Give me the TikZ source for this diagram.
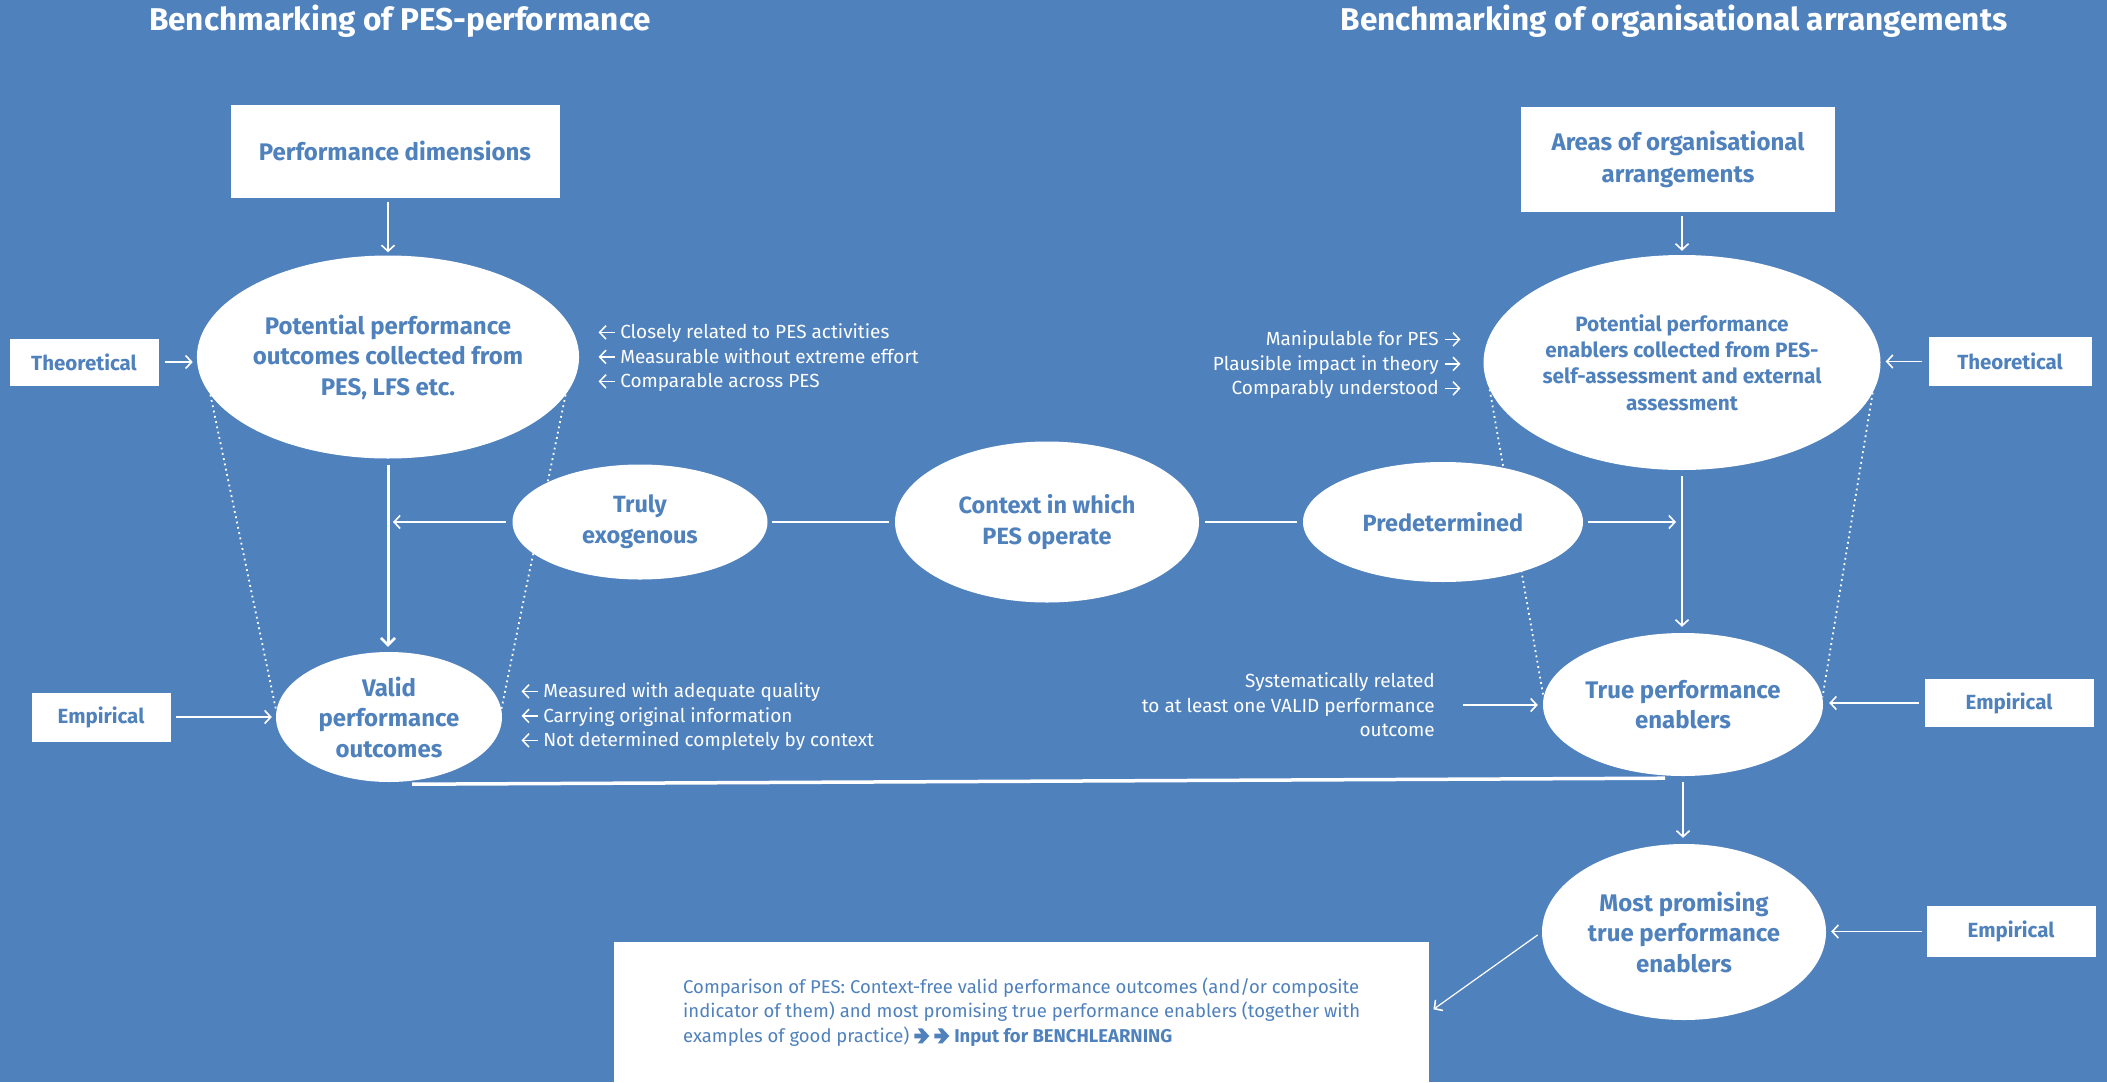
\documentclass[tikz,border=0pt]{standalone}
\usepackage{fontspec}
\setmainfont{Fira Sans}
\usetikzlibrary{shapes.geometric,arrows.meta,calc}
\definecolor{pesblue}{HTML}{4F81BD}
\pgfdeclarelayer{behind}
\pgfsetlayers{behind,main}
% small inline arrow (pointing from #1 to #2) used in the criteria lists
\newcommand\inlinearrow[2]{%
  \begin{pgfpicture}%
    \pgfsetbaseline{-6.5pt}%
    \pgfsetlinewidth{1.5pt}%
    \pgfsetstrokecolor{white}%
    \pgfsetarrowsend{Straight Barb[length=6.5pt,width=13.5pt,line width=1.5pt]}%
    \pgfpathmoveto{\pgfpoint{#1}{0pt}}%
    \pgfpathlineto{\pgfpoint{#2}{0pt}}%
    \pgfusepath{stroke}%
  \end{pgfpicture}}
\newcommand\lpt{\inlinearrow{16pt}{0pt}\hspace{5pt}}
\newcommand\rpt{\hspace{5pt}\inlinearrow{0pt}{16pt}}
% heavy chevron arrow used before the closing statement
\newcommand\heavyarrow{%
  \begin{pgfpicture}%
    \pgfsetbaseline{-6.5pt}%
    \pgfsetfillcolor{pesblue}%
    \pgfpathmoveto{\pgfpoint{0pt}{2.4pt}}%
    \pgfpathlineto{\pgfpoint{7pt}{2.4pt}}%
    \pgfpathlineto{\pgfpoint{3.5pt}{7.5pt}}%
    \pgfpathlineto{\pgfpoint{8pt}{7.5pt}}%
    \pgfpathlineto{\pgfpoint{15pt}{0pt}}%
    \pgfpathlineto{\pgfpoint{8pt}{-7.5pt}}%
    \pgfpathlineto{\pgfpoint{3.5pt}{-7.5pt}}%
    \pgfpathlineto{\pgfpoint{7pt}{-2.4pt}}%
    \pgfpathlineto{\pgfpoint{0pt}{-2.4pt}}%
    \pgfpathclose
    \pgfusepath{fill}%
  \end{pgfpicture}}
\begin{document}
\begin{tikzpicture}[x=1pt,y=-1pt,
  every node/.style={inner sep=0pt},
  heading/.style={text=white, font=\fontsize{31.5}{36}\selectfont\bfseries},
  oval/.style={ellipse, fill=white, text=pesblue, align=center,
    font=\fontsize{24}{30.5}\selectfont\bfseries},
  wbox/.style={rectangle, fill=white, text=pesblue, align=center,
    font=\fontsize{24}{32}\selectfont\bfseries},
  srcbox/.style={rectangle, fill=white, text=pesblue,
    font=\fontsize{20.5}{24}\selectfont\bfseries},
  note/.style={text=white, font=\fontsize{19}{24.5}\selectfont},
  arr/.style={draw=white, line width=1.6pt,
    -{Straight Barb[length=6pt,width=13pt,line width=1.6pt]}},
  thickarr/.style={draw=white, line width=3pt,
    -{Straight Barb[length=7pt,width=14pt,line width=2.6pt]}},
  link/.style={draw=white, line width=2.4pt},
  dots/.style={draw=white, line width=1.8pt, dash pattern=on 1.8pt off 3.6pt}]

\begin{pgfonlayer}{behind}
  \fill[pesblue] (0,0) rectangle (2107,1082);
\end{pgfonlayer}
\useasboundingbox (0,0) rectangle (2107,1082);

% headings
\node[heading, anchor=base] (headL) at (400,30) {Benchmarking of PES-performance};
\node[heading, anchor=base] (headR) at (1674,30) {Benchmarking of organisational arrangements};

% top boxes
\node[wbox, minimum width=329pt, minimum height=93pt] (dims) at (395,151) {Performance dimensions};
\node[wbox, minimum width=314pt, minimum height=105pt] (areas) at (1678,159.5) {Areas of organisational\\arrangements};

% source boxes
\node[srcbox, minimum width=149pt, minimum height=47pt] (theoL) at (84,362) {Theoretical};
\node[srcbox, minimum width=163pt, minimum height=49pt] (theoR) at (2010,361.5) {Theoretical};
\node[srcbox, minimum width=139pt, minimum height=49pt] (empL) at (101,717) {Empirical};
\node[srcbox, minimum width=169pt, minimum height=48pt] (empR) at (2009,703) {Empirical};
\node[srcbox, minimum width=169pt, minimum height=51pt] (empB) at (2011,931.5) {Empirical};

% ellipses
\node[oval, minimum width=382pt, minimum height=203pt] (outc) at (388,357)
  {Potential performance\\outcomes collected from\\PES, LFS etc.};
\node[oval, minimum width=397pt, minimum height=215pt,
      font=\fontsize{20.8}{26.3}\selectfont\bfseries] (enab) at (1682,362.5)
  {Potential performance\\enablers collected from PES-\\self-assessment and external\\assessment};
\node[oval, minimum width=255pt, minimum height=115pt, font=\fontsize{23.5}{31}\selectfont\bfseries] (truly) at (640,522)
  {Truly\\exogenous};
\node[oval, minimum width=304pt, minimum height=161pt, font=\fontsize{23.5}{31}\selectfont\bfseries] (context) at (1047,522)
  {Context in which\\PES operate};
\node[oval, minimum width=280pt, minimum height=120pt, font=\fontsize{23.5}{31}\selectfont\bfseries] (pred) at (1443,522)
  {Predetermined};
\node[oval, minimum width=226pt, minimum height=130pt] (valid) at (389,717)
  {Valid\\performance\\outcomes};
\node[oval, minimum width=280pt, minimum height=143pt] (trueen) at (1683,704.5)
  {True performance\\enablers};
\node[oval, minimum width=284pt, minimum height=176pt] (most) at (1684,932)
  {Most promising\\true performance\\enablers};

% criteria notes
\node[note, anchor=west, align=left] (critA) at (597,358)
  {\lpt Closely related to PES activities\\\lpt Measurable without extreme effort\\\lpt Comparable across PES};
\node[note, anchor=east, align=right] (critE) at (1462,365)
  {Manipulable for PES\rpt\\Plausible impact in theory\rpt\\Comparably understood\rpt};
\node[note, anchor=west, align=left] (critB) at (520,717)
  {\lpt Measured with adequate quality\\\lpt Carrying original information\\\lpt Not determined completely by context};
\node[note, anchor=east, align=right] (sysrel) at (1435,705)
  {Systematically related\\to at least one VALID performance\\outcome};

% final comparison box
\node[rectangle, fill=white, text=pesblue, anchor=north west, align=left,
      minimum width=815pt, minimum height=140pt,
      font=\fontsize{18.5}{24.5}\selectfont] (compare) at (614,942)
  {Comparison of PES: Context-free valid performance outcomes (and/or composite\\
   indicator of them) and most promising true performance enablers (together with\\
   examples of good practice)\hspace{5pt}\heavyarrow\hspace{5pt}\heavyarrow\hspace{5pt}\textbf{Input for BENCHLEARNING}};

% dotted guide lines behind the ellipses
\begin{pgfonlayer}{behind}
  \draw[dots] (outc.192) -- (valid.177);
  \draw[dots] (outc.348.5) -- (valid.4.4);
  \draw[dots] (enab.188.6) -- (trueen.177);
  \draw[dots] (enab.351.5) -- (trueen.3);
\end{pgfonlayer}

% connectors
\draw[arr, shorten <=4pt, shorten >=3pt] (dims.south -| outc.north) -- (outc.north);
\draw[arr, shorten <=4pt, shorten >=4pt] (areas.south -| enab.north) -- (enab.north);
\draw[arr, shorten <=6pt, shorten >=4pt] (theoL.east) -- (theoL.east -| outc.west);
\draw[arr, shorten <=6pt, shorten >=5pt] (theoR.west) -- (theoR.west -| enab.east);
\draw[thickarr, shorten <=6.5pt, shorten >=5pt] (outc.south) -- (outc.south |- valid.north);
\draw[arr, shorten <=6.5pt] (truly.west) -- ($(truly.west -| outc.south)+(5,0)$);
\draw[link, shorten <=4.5pt, shorten >=6pt] (truly.east) -- (context.west);
\draw[link, shorten <=6pt, shorten >=6pt] (context.east) -- (pred.west);
\draw[arr, shorten <=5pt] (pred.east) -- ($(pred.east -| enab.south)+(-6,0)$);
\draw[arr, shorten <=6pt, shorten >=6pt] (enab.south) -- (enab.south |- trueen.north);
\draw[arr, shorten <=5.5pt, shorten >=4pt] (empL.east) -- (empL.east -| valid.west);
\draw[arr, shorten <=5.5pt, shorten >=6pt] (empR.west) -- (empR.west -| trueen.east);
\draw[arr, shorten <=28pt, shorten >=5pt] (sysrel.east) -- (sysrel.east -| trueen.west);
\draw[white, line width=3.5pt] ($(valid.south)+(23,2)$) -- ($(trueen.south)+(-18,2)$);
\draw[arr, shorten <=6pt, shorten >=6pt] (trueen.south) -- (trueen.south |- most.north);
\draw[arr, shorten <=4.5pt, shorten >=5pt] (empB.west) -- (empB.west -| most.east);
\draw[arr, line width=1.2pt, shorten <=5pt, shorten >=5pt] (most.west) -- (compare.east);
\end{tikzpicture}
\end{document}
